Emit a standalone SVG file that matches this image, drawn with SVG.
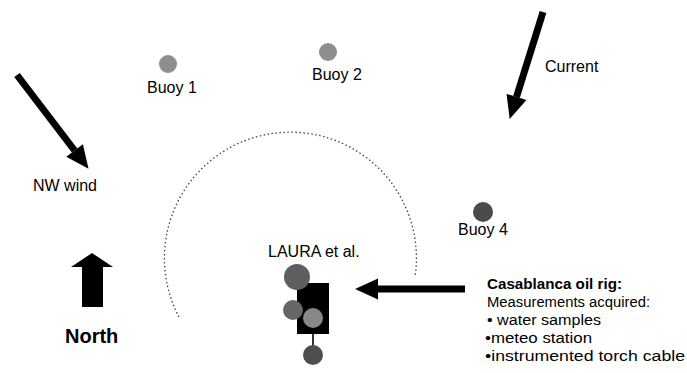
<svg xmlns="http://www.w3.org/2000/svg" width="687" height="373" viewBox="0 0 687 373">
<style>
text{font-family:"Liberation Sans",Arial,sans-serif;fill:#000}
.lbl{font-size:16px}
.info{font-size:15.5px}
.b{font-weight:bold}
.shaft{stroke:#000;stroke-width:7;fill:none}
</style>
<defs>
<marker id="head" markerUnits="userSpaceOnUse" markerWidth="24" markerHeight="24" viewBox="0 -11 23 22" refX="0" refY="0" orient="auto" overflow="visible">
<path d="M0,-10 L22,0 L0,10 Z" fill="#000"/>
</marker>
</defs>
<rect width="687" height="373" fill="#fff"/>
<g id="range">
<path d="M179,317 A126,126 0 1 1 415,277" fill="none" stroke="#444" stroke-width="1.3" stroke-dasharray="1.5,2.5"/>
</g>
<g id="connectors">
<line class="shaft" x1="17" y1="75" x2="74.6" y2="150.5" marker-end="url(#head)"/>
<line class="shaft" x1="543" y1="12" x2="516.5" y2="97" marker-end="url(#head)"/>
<line class="shaft" x1="465" y1="289" x2="378" y2="289" marker-end="url(#head)"/>
</g>
<g id="buoy1">
<circle cx="168" cy="64" r="9" fill="#8e8e8e"/>
<text class="lbl" x="147" y="93">Buoy 1</text>
</g>
<g id="buoy2">
<circle cx="328" cy="52" r="9" fill="#8e8e8e"/>
<text class="lbl" x="312" y="80">Buoy 2</text>
</g>
<g id="buoy4">
<circle cx="483" cy="212" r="10" fill="#4a4a4a"/>
<text class="lbl" x="458" y="235">Buoy 4</text>
</g>
<g id="current">
<text class="lbl" x="545" y="72">Current</text>
</g>
<g id="nwwind">
<text class="lbl" x="33" y="191">NW wind</text>
</g>
<g id="north">
<polygon points="82,307 82,267 71,267 92,253 113,267 103,267 103,307" fill="#000"/>
<text class="b" x="65" y="343" font-size="20">North</text>
</g>
<g id="laura">
<text class="lbl" x="268" y="257">LAURA et al.</text>
<rect x="297" y="283" width="32" height="51" fill="#000"/>
<line x1="313" y1="334" x2="313" y2="346" stroke="#333" stroke-width="2"/>
<circle cx="297" cy="277" r="13" fill="#5e5e5e"/>
<circle cx="293" cy="310" r="10" fill="#666"/>
<circle cx="313" cy="318" r="10" fill="#888"/>
<circle cx="313" cy="355" r="10" fill="#4e4e4e"/>
</g>
<g id="casablanca">
<text class="info b" x="487" y="289" textLength="135" lengthAdjust="spacingAndGlyphs">Casablanca oil rig:</text>
<text class="info" x="487" y="307" textLength="163" lengthAdjust="spacingAndGlyphs">Measurements acquired:</text>
<text class="info" x="487" y="325" textLength="114" lengthAdjust="spacingAndGlyphs">• water samples</text>
<text class="info" x="485" y="343" textLength="107" lengthAdjust="spacingAndGlyphs">•meteo station</text>
<text class="info" x="485" y="361" textLength="200" lengthAdjust="spacingAndGlyphs">•instrumented torch cable</text>
</g>
</svg>
